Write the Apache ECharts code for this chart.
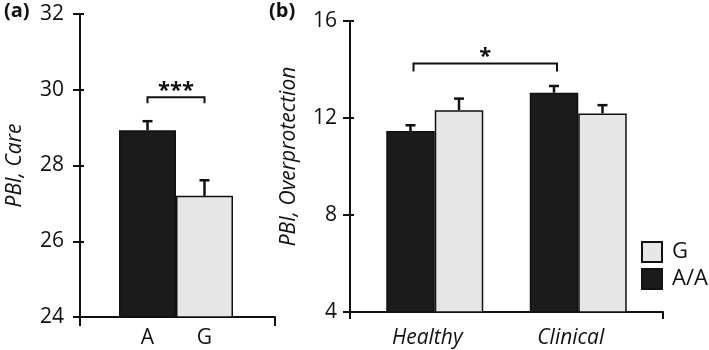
<!DOCTYPE html>
<html>
<head>
<meta charset="utf-8">
<script src="https://cdn.jsdelivr.net/npm/echarts@6/dist/echarts.min.js"></script>
<style>
	html, body { margin: 0; padding: 0; background: #fff; }
	#chart { width: 709px; height: 350px; }
</style>
</head>
<body>
<div id="chart"></div>
<script>
	// (a) PBI Care, by allele
	const careCats = ["A", "G"];
	const careMean = [28.93, 27.2];
	const careErrTop = [29.17, 27.61];
	const careTicks = [24, 26, 28, 30, 32];
	const careSig = [0, 1, 29.8, "***"];

	// (b) PBI Overprotection, by group and genotype
	const groupCats = ["Healthy", "Clinical"];
	const aaMean = [11.46, 13.04];
	const aaErrTop = [11.7, 13.32];
	const gMean = [12.32, 12.19];
	const gErrTop = [12.8, 12.53];
	const protTicks = [4, 8, 12, 16];
	const protSig = [0, 1, 14.25, "*"];

	const FONT = "'Open Sans', sans-serif";
	const INK = "#111";
	const DARK = "#1b1b1b";
	const LIGHT = "#e6e6e6";
	const BAR_W = 48.5; // panel b bar width, px

	const chart = echarts.init(document.getElementById("chart"));

	// error bar drawn up from the bar top; off = horizontal shift from category centre
	const errRender = (off) => (params, api) => {
		const cat = api.value(0);
		const base = api.coord([cat, api.value(1)]);
		const top = api.coord([cat, api.value(2)]);
		const x = base[0] + off;
		return {
			type: "group",
			children: [
				{ type: "line", shape: { x1: x, y1: base[1], x2: x, y2: top[1] }, style: { stroke: INK, lineWidth: 2.5 } },
				{ type: "line", shape: { x1: x - 5, y1: top[1], x2: x + 5, y2: top[1] }, style: { stroke: INK, lineWidth: 2.5 } }
			]
		};
	};

	const sigRender = (off, drop) => (params, api) => {
		const a = api.coord([api.value(0), api.value(2)]);
		const b = api.coord([api.value(1), api.value(2)]);
		const x1 = a[0] + off, x2 = b[0] + off, y = a[1];
		return {
			type: "group",
			children: [
				{ type: "polyline", shape: { points: [[x1, y + drop], [x1, y], [x2, y], [x2, y + drop]] }, style: { stroke: INK, lineWidth: 2, fill: null } },
				{ type: "text", x: (x1 + x2) / 2, y: y + 4, style: { text: api.value(3), textAlign: "center", textVerticalAlign: "bottom", font: "bold 22px " + FONT, fill: INK } }
			]
		};
	};

	const visibleY = (ticks, name, nameGap, labelGap, namePad) => ({
		type: "value",
		position: "left",
		min: ticks[0],
		max: ticks[ticks.length - 1],
		interval: ticks[1] - ticks[0],
		axisLine: { show: true, lineStyle: { color: INK, width: 2 } },
		axisTick: { show: true, length: 7, lineStyle: { color: INK, width: 2 } },
		axisLabel: { fontSize: 21, color: INK, fontFamily: FONT, margin: labelGap },
		splitLine: { show: false },
		name: name,
		nameLocation: "middle",
		nameRotate: 90,
		nameGap: nameGap,
		nameTextStyle: { fontSize: 21, fontStyle: "italic", color: INK, fontFamily: FONT, padding: namePad }
	});

	// short inward stubs so the ticks cross the axis line
	const innerTicks = (ticks) => ({
		type: "value",
		position: "left",
		min: ticks[0],
		max: ticks[ticks.length - 1],
		interval: ticks[1] - ticks[0],
		axisLine: { show: false },
		axisTick: { show: true, inside: true, length: 4, lineStyle: { color: INK, width: 2 } },
		axisLabel: { show: false },
		splitLine: { show: false }
	});

	const hiddenY = (ticks) => ({
		type: "value",
		min: ticks[0],
		max: ticks[ticks.length - 1],
		show: false
	});

	const lineX = (grid, tickLen) => ({
		type: "category",
		gridIndex: grid,
		data: [""],
		axisLine: { show: true, lineStyle: { color: INK, width: 2 } },
		axisTick: { show: true, length: tickLen, lineStyle: { color: INK, width: 2 } },
		axisLabel: { show: false }
	});

	const option = {
		animation: false,
		title: [
			{ text: "(a)", left: -1, top: -4, textStyle: { fontSize: 20, fontWeight: "bold", color: INK, fontFamily: FONT } },
			{ text: "(b)", left: 264, top: -4, textStyle: { fontSize: 20, fontWeight: "bold", color: INK, fontFamily: FONT } }
		],
		legend: {
			data: ["G", "A/A"],
			orient: "vertical",
			left: 641,
			top: 241,
			padding: 0,
			icon: "rect",
			itemWidth: 20,
			itemHeight: 20,
			itemGap: 5,
			textStyle: { fontSize: 22, color: INK, fontFamily: FONT, padding: [0, 0, 0, 5] }
		},
		grid: [
			{ left: 80, right: 434, top: 14, bottom: 33 },
			{ left: 119, right: 476, top: 14, bottom: 33 },
			{ left: 350, right: 46, top: 21, bottom: 38 },
			{ left: 363, right: 59, top: 21, bottom: 38 }
		],
		xAxis: [
			lineX(0, 9),
			{
				type: "category",
				gridIndex: 1,
				data: careCats,
				axisLine: { show: false },
				axisTick: { show: false },
				axisLabel: { fontSize: 21, color: INK, fontFamily: FONT, margin: 11 }
			},
			lineX(2, 7),
			{
				type: "category",
				gridIndex: 3,
				data: groupCats,
				axisLine: { show: false },
				axisTick: { show: false },
				axisLabel: { fontSize: 21, fontStyle: "italic", color: INK, fontFamily: FONT, margin: 16, padding: [0, 15, 0, 0] }
			}
		],
		yAxis: [
			Object.assign(visibleY(careTicks, "PBI, Care", 54, 16, [0, 0, 0, 0]), { gridIndex: 0 }),
			Object.assign(hiddenY(careTicks), { gridIndex: 1 }),
			Object.assign(visibleY(protTicks, "PBI, Overprotection", 50, 13, [0, 0, 0, 20]), { gridIndex: 2 }),
			Object.assign(hiddenY(protTicks), { gridIndex: 3 }),
			Object.assign(innerTicks(careTicks), { gridIndex: 0 }),
			Object.assign(innerTicks(protTicks), { gridIndex: 2 })
		],
		series: [
			{
				name: "Care",
				type: "bar",
				xAxisIndex: 1,
				yAxisIndex: 1,
				barCategoryGap: "0%",
				data: careMean.map((v, i) => ({
					value: v,
					itemStyle: { color: i === 0 ? DARK : LIGHT }
				})),
				itemStyle: { borderColor: INK, borderWidth: 1.5 }
			},
			{
				type: "custom",
				xAxisIndex: 1,
				yAxisIndex: 1,
				renderItem: errRender(0),
				encode: { x: 0, y: 2 },
				data: careCats.map((c, i) => [i, careMean[i], careErrTop[i]]),
				z: 3
			},
			{
				type: "custom",
				xAxisIndex: 1,
				yAxisIndex: 1,
				renderItem: sigRender(0, 6),
				encode: { x: 0, y: 2 },
				data: [careSig]
			},
			{
				name: "A/A",
				type: "bar",
				xAxisIndex: 3,
				yAxisIndex: 3,
				barWidth: BAR_W,
				barGap: "0%",
				data: aaMean,
				itemStyle: { color: DARK, borderColor: INK, borderWidth: 1.5 }
			},
			{
				name: "G",
				type: "bar",
				xAxisIndex: 3,
				yAxisIndex: 3,
				barWidth: BAR_W,
				barGap: "0%",
				data: gMean,
				itemStyle: { color: LIGHT, borderColor: INK, borderWidth: 1.5 }
			},
			{
				type: "custom",
				xAxisIndex: 3,
				yAxisIndex: 3,
				renderItem: errRender(-BAR_W / 2),
				encode: { x: 0, y: 2 },
				data: groupCats.map((c, i) => [i, aaMean[i], aaErrTop[i]]),
				z: 3
			},
			{
				type: "custom",
				xAxisIndex: 3,
				yAxisIndex: 3,
				renderItem: errRender(BAR_W / 2),
				encode: { x: 0, y: 2 },
				data: groupCats.map((c, i) => [i, gMean[i], gErrTop[i]]),
				z: 3
			},
			{
				type: "custom",
				xAxisIndex: 3,
				yAxisIndex: 3,
				renderItem: sigRender(-BAR_W / 2 + 3, 8),
				encode: { x: 0, y: 2 },
				data: [protSig]
			}
		]
	};

	chart.setOption(option);
	window.addEventListener("resize", () => chart.resize());
</script>
</body>
</html>
